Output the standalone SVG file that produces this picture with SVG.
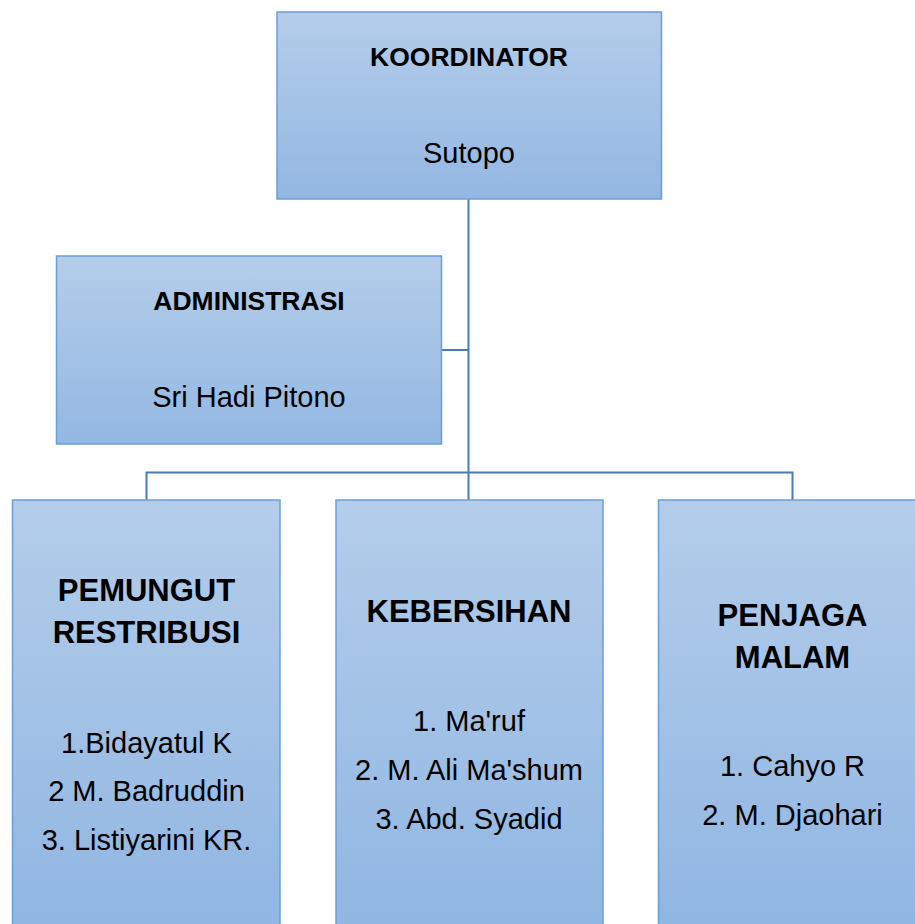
<svg xmlns="http://www.w3.org/2000/svg" width="915" height="924" viewBox="0 0 915 924">
<defs>
<linearGradient id="g" x1="0" y1="0" x2="0" y2="1">
<stop offset="0" stop-color="#b4cdea"/>
<stop offset="1" stop-color="#93b7e2"/>
</linearGradient>
<linearGradient id="gt" x1="0" y1="0" x2="0" y2="1">
<stop offset="0" stop-color="#b4cdea"/>
<stop offset="1" stop-color="#8fb5e2"/>
</linearGradient>
</defs>
<style>
.box{fill:url(#g);stroke:#6a9fd6;stroke-width:1.5}
.tall{fill:url(#gt);stroke:#6a9fd6;stroke-width:1.5}
.con{fill:none;stroke:#4a7eb3;stroke-width:2}
text{font-family:"Liberation Sans",Arial,sans-serif;fill:#000;text-anchor:middle}
.h{font-weight:bold;font-size:26.5px}
.hb{font-weight:bold;font-size:31px}
.n{font-size:29px}
</style>
<g id="connectors">
<path class="con" d="M468.5 199 V500"/>
<path class="con" d="M441 350 H468.5"/>
<path class="con" d="M146.5 500 V472.5 H792.5 V500"/>
</g>
<g id="koordinator">
<rect class="box" x="277" y="12" width="384.5" height="187"/>
<text class="h" x="469" y="66">KOORDINATOR</text>
<text class="n" x="469" y="163">Sutopo</text>
</g>
<g id="administrasi">
<rect class="box" x="56.5" y="256" width="385" height="188"/>
<text class="h" x="249" y="310">ADMINISTRASI</text>
<text class="n" x="249" y="407">Sri Hadi Pitono</text>
</g>
<g id="pemungut">
<rect class="tall" x="12.5" y="500" width="267.5" height="440"/>
<text class="hb" x="146.5" y="601">PEMUNGUT</text>
<text class="hb" x="146.5" y="643">RESTRIBUSI</text>
<text class="n" x="146.5" y="753">1.Bidayatul K</text>
<text class="n" x="146.5" y="801">2 M. Badruddin</text>
<text class="n" x="146.5" y="850">3. Listiyarini KR.</text>
</g>
<g id="kebersihan">
<rect class="tall" x="336" y="500" width="267" height="440"/>
<text class="hb" x="469" y="622">KEBERSIHAN</text>
<text class="n" x="469" y="731">1. Ma'ruf</text>
<text class="n" x="469" y="780">2. M. Ali Ma'shum</text>
<text class="n" x="469" y="829">3. Abd. Syadid</text>
</g>
<g id="penjaga">
<rect class="tall" x="658.5" y="500" width="268" height="440"/>
<text class="hb" x="792.5" y="626">PENJAGA</text>
<text class="hb" x="792.5" y="668">MALAM</text>
<text class="n" x="792.5" y="776">1. Cahyo R</text>
<text class="n" x="792.5" y="825">2. M. Djaohari</text>
</g>
</svg>
